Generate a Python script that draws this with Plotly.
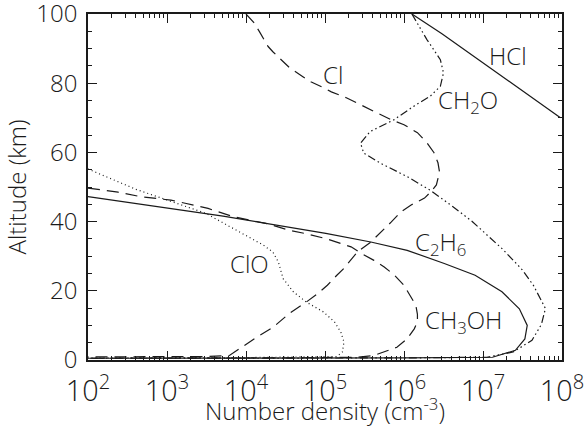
import plotly.graph_objects as go

# ---- data: log10 number density (cm^-3) and altitude (km) ----
hcl_logn = [6.10, 6.48, 7.98]
hcl_alt = [100.0, 94.3, 70.0]

cl_logn = [4.00, 4.10, 4.17, 4.28, 4.34, 4.47, 4.55, 4.72, 4.82, 4.98, 5.08, 5.27, 5.41, 5.53,
           5.66, 5.84, 6.00, 6.17, 6.29, 6.38, 6.43, 6.45, 6.41, 6.34, 6.26, 6.09, 5.96, 5.84,
           5.71, 5.58, 5.41, 5.24, 5.15, 5.03, 4.93, 4.76, 4.55, 4.34, 4.13, 3.91, 3.79, 3.50, 2.00]
cl_alt = [100.0, 97.5, 94.9, 90.6, 89.1, 86.2, 84.5, 81.9, 80.4, 78.7, 77.5, 75.8, 74.3, 72.9,
          71.4, 69.4, 68.0, 65.7, 62.8, 59.9, 57.0, 54.3, 50.6, 48.6, 46.8, 44.8, 42.8, 39.9,
          37.0, 34.1, 31.2, 26.5, 24.5, 21.6, 19.6, 16.7, 13.5, 9.4, 6.5, 3.3, 1.3, 1.0, 0.9]

ch2o_logn = [6.10, 6.29, 6.46, 6.50, 6.46, 6.33, 6.12, 5.87, 5.57, 5.45, 5.49, 5.70, 6.04, 6.33,
             6.62, 6.86, 7.25, 7.50, 7.64, 7.73, 7.79, 7.74, 7.62, 7.38, 7.05, 6.00, 2.00]
ch2o_alt = [100.0, 92.6, 86.8, 83.0, 79.1, 76.2, 73.3, 69.4, 66.0, 62.7, 59.8, 56.9, 53.0, 49.1,
            44.3, 40.1, 32.0, 26.0, 21.5, 17.8, 14.9, 10.3, 5.7, 2.3, 0.8, 0.6, 0.5]

c2h6_logn = [2.00, 3.52, 3.71, 5.01, 5.58, 6.04, 6.51, 6.90, 7.24, 7.46, 7.56, 7.53, 7.41, 7.12, 6.00, 2.00]
c2h6_alt = [47.2, 42.4, 41.6, 36.6, 34.1, 31.7, 27.9, 24.5, 19.7, 14.8, 10.0, 6.1, 2.8, 0.8, 0.6, 0.5]

ch3oh_logn = [2.00, 2.17, 2.38, 2.67, 3.05, 3.23, 3.52, 3.84, 4.25, 4.55, 4.74, 5.01, 5.15, 5.33,
              5.46, 5.62, 5.75, 5.88, 6.00, 6.10, 6.15, 6.17, 6.17, 6.13, 6.04, 5.91, 5.75, 5.62,
              5.41, 4.50, 2.00]
ch3oh_alt = [49.7, 49.1, 48.5, 47.2, 46.2, 45.3, 43.8, 41.4, 39.5, 37.5, 36.6, 35.1, 34.1, 32.7,
             30.8, 28.8, 26.9, 24.5, 21.6, 17.7, 15.8, 13.2, 11.0, 9.0, 6.1, 3.7, 2.3, 1.3,
             0.8, 0.6, 0.5]

clo_logn = [2.00, 2.61, 3.49, 3.91, 4.22, 4.34, 4.41, 4.47, 4.60, 4.76, 4.98, 5.12, 5.20, 5.24,
            5.22, 5.15, 4.00, 2.00]
clo_alt = [55.2, 49.3, 42.4, 37.0, 33.2, 31.2, 28.3, 23.5, 19.7, 16.8, 13.9, 11.0, 8.1, 5.2,
           2.3, 1.0, 0.7, 0.6]

# label texts and positions (log10 density, altitude)
label_text = ["HCl", "Cl", "CH<sub>2</sub>O", "C<sub>2</sub>H<sub>6</sub>", "CH<sub>3</sub>OH", "ClO"]
label_logn = [7.32, 5.10, 6.40, 6.12, 6.24, 4.05]
label_alt = [88.0, 82.5, 74.8, 33.8, 11.4, 28.0]
label_anchor = ["center", "center", "left", "left", "left", "center"]

FONT = "Open Sans, Liberation Sans, sans-serif"
INK = "#1a1a1a"


def fnt(size):
    return dict(family=FONT, size=size, color=INK, weight=300)


series = [
    (hcl_logn, hcl_alt, "HCl", "solid"),
    (cl_logn, cl_alt, "Cl", "12px,7px"),
    (ch2o_logn, ch2o_alt, "CH2O", "8px,3px,1.5px,3px,1.5px,3px,1.5px,3px"),
    (c2h6_logn, c2h6_alt, "C2H6", "solid"),
    (ch3oh_logn, ch3oh_alt, "CH3OH", "12px,7px"),
    (clo_logn, clo_alt, "ClO", "1px,3px"),
]

fig = go.Figure()
for logn, alt, name, dash in series:
    fig.add_trace(go.Scatter(
        x=[10 ** v for v in logn], y=alt, mode="lines", name=name,
        line=dict(color=INK, width=1.2, dash=dash), showlegend=False, hoverinfo="skip",
    ))

for t, lx, ly, anc in zip(label_text, label_logn, label_alt, label_anchor):
    fig.add_annotation(x=lx, y=ly, xref="x", yref="y", text=t, showarrow=False,
                       xanchor=anc, yanchor="middle", font=fnt(24))

axis_common = dict(
    showline=True, linecolor=INK, linewidth=1.5, mirror="ticks",
    ticks="inside", ticklen=9, tickwidth=1.2, tickcolor=INK,
    showgrid=False, zeroline=False, ticklabeloverflow="allow", automargin=False,
)

fig.update_xaxes(
    type="log", range=[2, 8], dtick=1, exponentformat="power",
    ticklabelstandoff=6, tickfont=fnt(23),
    minor=dict(ticks="inside", ticklen=4.5, tickwidth=1, tickcolor=INK, dtick="D1", showgrid=False),
    title=dict(text="Number density (cm<sup>-3</sup>)", font=fnt(24), standoff=5),
    **axis_common,
)
fig.update_yaxes(
    range=[0, 100], dtick=20,
    ticklabelstandoff=4, tickfont=fnt(24),
    minor=dict(ticks="inside", ticklen=4.5, tickwidth=1, tickcolor=INK, dtick=5, showgrid=False),
    title=dict(text="Altitude (km)", font=fnt(24), standoff=4),
    **axis_common,
)

fig.update_layout(
    width=586, height=427,
    margin=dict(l=88, r=24, t=14, b=67),
    paper_bgcolor="white", plot_bgcolor="white",
    font=fnt(24),
)

fig.write_html("out.html", config={"displayModeBar": False},
               post_script="document.body.style.margin='0';")
